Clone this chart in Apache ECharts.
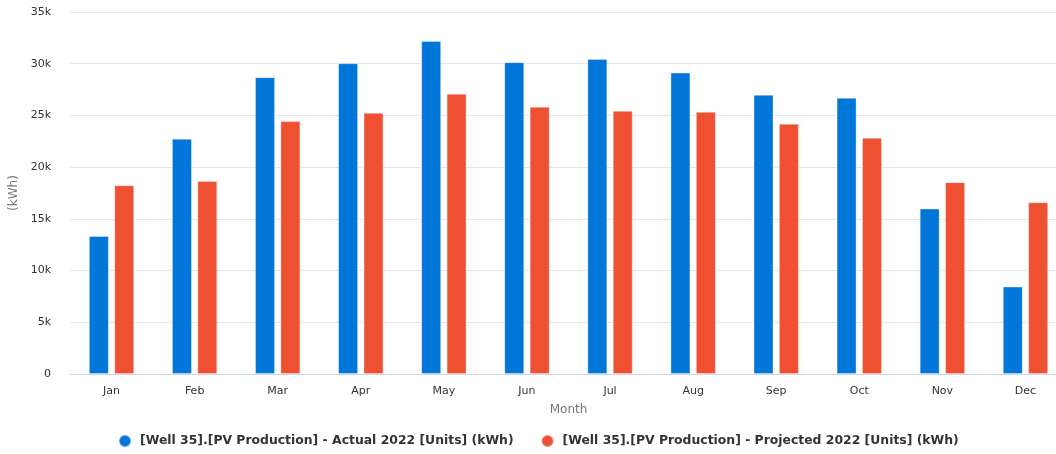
<!DOCTYPE html>
<html>
<head>
<meta charset="utf-8">
<script src="https://cdn.jsdelivr.net/npm/echarts@6/dist/echarts.min.js"></script>
<style>
  html, body { margin: 0; padding: 0; background: #fff; }
  #chart { width: 1056px; height: 454px; }
</style>
</head>
<body>
<div id="chart"></div>
<script>
// Monthly PV production for Well 35, 2022 (kWh)
const months = ['Jan', 'Feb', 'Mar', 'Apr', 'May', 'Jun', 'Jul', 'Aug', 'Sep', 'Oct', 'Nov', 'Dec'];
const actual2022 = [13350, 22750, 28700, 30050, 32200, 30150, 30450, 29150, 27000, 26700, 16000, 8450];
const projected2022 = [18250, 18650, 24450, 25250, 27100, 25850, 25450, 25350, 24200, 22850, 18550, 16600];
const seriesNames = [
  '[Well 35].[PV Production] - Actual 2022 [Units] (kWh)',
  '[Well 35].[PV Production] - Projected 2022 [Units] (kWh)'
];
const yTicks = { min: 0, max: 35000, step: 5000 };

const chart = echarts.init(document.getElementById('chart'), null, { renderer: 'canvas' });
const font = 'Tahoma, "DejaVu Sans", sans-serif';
const barEdge = { borderColor: 'rgba(255,255,255,0.35)', borderWidth: 1 };

chart.setOption({
  animation: false,
  textStyle: { fontFamily: font },
  color: ['#0076d8', '#f05032'],
  // plot area runs slightly past the right edge of the canvas
  grid: { left: 70, top: 12, width: 997, height: 362, containLabel: false, outerBoundsMode: 'none' },
  legend: {
    left: 113,
    top: 429,
    icon: 'circle',
    itemWidth: 20,
    itemHeight: 12,
    itemGap: 27,
    textStyle: { fontSize: 12.4, color: '#333', fontWeight: 'bold', fontFamily: font },
    data: seriesNames
  },
  xAxis: {
    type: 'category',
    data: months,
    name: 'Month',
    nameLocation: 'middle',
    nameGap: 30,
    nameTextStyle: { color: '#777', fontSize: 12 },
    axisLine: { lineStyle: { color: '#ccd6eb' } },
    axisTick: { show: false },
    axisLabel: { color: '#333', fontSize: 11, margin: 12 }
  },
  yAxis: {
    type: 'value',
    min: yTicks.min,
    max: yTicks.max,
    interval: yTicks.step,
    name: '(kWh)',
    nameLocation: 'middle',
    nameGap: 50,
    nameTextStyle: { color: '#777', fontSize: 12 },
    axisLine: { show: false },
    axisTick: { show: false },
    axisLabel: {
      color: '#333',
      fontSize: 11,
      margin: 19,
      formatter: v => (v === 0 ? '0' : v / 1000 + 'k')
    },
    splitLine: { lineStyle: { color: '#e6e6e6' } }
  },
  series: [
    {
      name: seriesNames[0],
      type: 'bar',
      data: actual2022,
      barWidth: 20,
      barGap: '27%',
      itemStyle: barEdge
    },
    {
      name: seriesNames[1],
      type: 'bar',
      data: projected2022,
      barWidth: 20,
      barGap: '27%',
      itemStyle: barEdge
    }
  ]
});
</script>
</body>
</html>
